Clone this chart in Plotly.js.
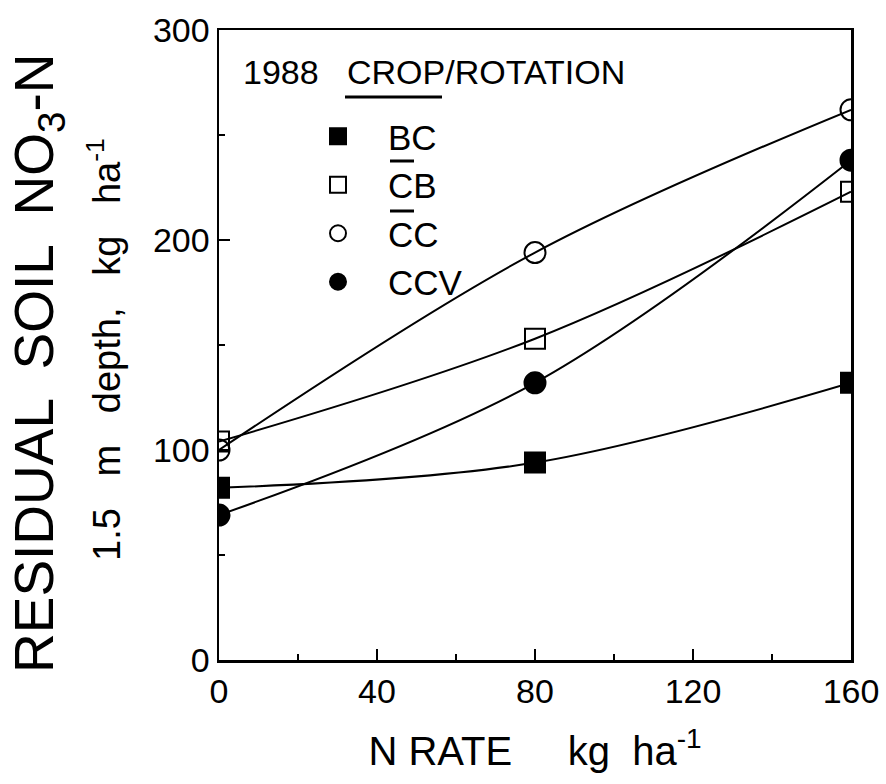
<!DOCTYPE html>
<html><head><meta charset="utf-8">
<script src="https://cdn.plot.ly/plotly-3.0.1.min.js"></script>
<style>html,body{margin:0;padding:0;background:#fff}</style>
</head><body>
<div id="chart" style="width:886px;height:784px"></div>
<script>
// ---- data ----
const nRate = [0, 80, 160];
const bcVals = [82, 94, 132];
const cbVals = [104, 153, 223];
const ccVals = [100, 194, 262];
const ccvVals = [69, 132, 238];
const seriesLabels = ['BC', 'CB', 'CC', 'CCV'];
const xTickVals = [0, 40, 80, 120, 160];
const yTickVals = [0, 100, 200, 300];

const FONT = 'Liberation Sans, Arial, sans-serif';
const L = 219, R = 851, T = 30, B = 660;
const px2x = p => (p - L) / (R - L);
const px2y = p => (B - p) / (B - T);

const series = [
  {name: seriesLabels[0], y: bcVals, symbol: 'square', size: 20},
  {name: seriesLabels[1], y: cbVals, symbol: 'square-open', size: 20},
  {name: seriesLabels[2], y: ccVals, symbol: 'circle-open', size: 21},
  {name: seriesLabels[3], y: ccvVals, symbol: 'circle', size: 21}
];

const traces = [];
series.forEach(s => {
  traces.push({x: nRate, y: s.y, mode: 'lines', showlegend: false, hoverinfo: 'skip',
    line: {color: '#000', width: 2, shape: 'spline', smoothing: 1}});
});
series.forEach(s => {
  traces.push({x: nRate, y: s.y, mode: 'markers', name: s.name,
    marker: {symbol: s.symbol, size: s.size, color: '#000', line: {color: '#000', width: 2}}});
});

const layout = {
  width: 886, height: 784,
  margin: {l: L, r: 886 - R, t: T, b: 784 - B},
  paper_bgcolor: '#fff', plot_bgcolor: '#fff',
  font: {family: FONT, color: '#000'},
  showlegend: true,
  legend: {x: px2x(288), y: px2y(107), xanchor: 'left', yanchor: 'top',
    bgcolor: 'rgba(0,0,0,0)', font: {size: 35, family: FONT, color: '#000'},
    itemwidth: 90, traceorder: 'normal'},
  xaxis: {range: [0, 160], tickvals: xTickVals, ticks: 'inside', ticklen: 11, tickwidth: 2,
    tickcolor: '#000', showline: true, linewidth: 2.5, linecolor: '#000', mirror: true,
    showgrid: false, zeroline: false, tickfont: {size: 34, family: FONT},
    minor: {dtick: 20, ticks: 'inside', ticklen: 6, tickwidth: 1.5, tickcolor: '#000', showgrid: false},
    title: {text: 'N RATE     kg  ha<sup>-1</sup>', font: {size: 40, family: FONT}, standoff: 28}},
  yaxis: {range: [0, 300], tickvals: yTickVals, ticks: 'inside', ticklen: 11, tickwidth: 2,
    tickcolor: '#000', showline: true, linewidth: 2.5, linecolor: '#000', mirror: true,
    showgrid: false, zeroline: false, tickfont: {size: 34, family: FONT},
    minor: {dtick: 50, ticks: 'inside', ticklen: 6, tickwidth: 1.5, tickcolor: '#000', showgrid: false}},
  annotations: [
    {text: 'RESIDUAL  SOIL  NO<sub>3</sub>-N', xref: 'paper', yref: 'paper', x: px2x(38), y: px2y(364),
      xanchor: 'center', yanchor: 'middle', textangle: -90, showarrow: false,
      font: {size: 55, family: FONT, color: '#000'}},
    {text: '1.5   m   depth,   kg   ha<sup>-1</sup>', xref: 'paper', yref: 'paper', x: px2x(104), y: px2y(350),
      xanchor: 'center', yanchor: 'middle', textangle: -90, showarrow: false,
      font: {size: 38, family: FONT, color: '#000'}},
    {text: '1988   CROP/ROTATION', xref: 'paper', yref: 'paper', x: px2x(241), y: px2y(72),
      xanchor: 'left', yanchor: 'middle', showarrow: false,
      font: {size: 34, family: FONT, color: '#000'}}
  ],
  shapes: [
    {type: 'line', xref: 'paper', yref: 'paper', x0: px2x(345), x1: px2x(442), y0: px2y(97), y1: px2y(97),
      line: {color: '#000', width: 3}},
    {type: 'line', xref: 'paper', yref: 'paper', x0: px2x(390), x1: px2x(414), y0: px2y(161), y1: px2y(161),
      line: {color: '#000', width: 3}},
    {type: 'line', xref: 'paper', yref: 'paper', x0: px2x(390), x1: px2x(414), y0: px2y(211), y1: px2y(211),
      line: {color: '#000', width: 3}}
  ]
};

Plotly.newPlot('chart', traces, layout, {displayModeBar: false, staticPlot: true});
</script>
</body></html>
